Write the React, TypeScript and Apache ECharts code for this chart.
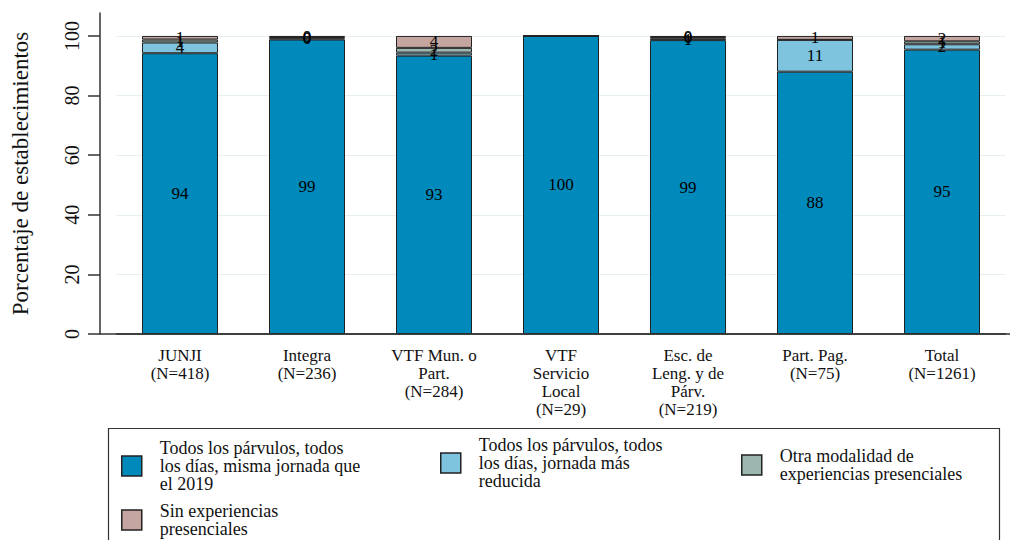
import React, { useEffect, useRef } from "react";
import * as echarts from "echarts";

const categories = [
  "JUNJI\n(N=418)",
  "Integra\n(N=236)",
  "VTF Mun. o\nPart.\n(N=284)",
  "VTF\nServicio\nLocal\n(N=29)",
  "Esc. de\nLeng. y de\nPárv.\n(N=219)",
  "Part. Pag.\n(N=75)",
  "Total\n(N=1261)",
];

const misma = [94.2, 98.8, 93.4, 100, 98.6, 88.0, 95.4];
const reducida = [3.6, 0.4, 1.0, 0, 0.6, 10.7, 1.8];
const otra = [1.0, 0.4, 1.6, 0, 0.4, 0, 1.0];
const sin = [1.2, 0.4, 4.0, 0, 0.4, 1.3, 1.8];

const yTicks = [0, 20, 40, 60, 80, 100];

const seriesNames = [
  "Todos los párvulos, todos los días, misma jornada que el 2019",
  "Todos los párvulos, todos los días, jornada más reducida",
  "Otra modalidad de experiencias presenciales",
  "Sin experiencias presenciales",
];
const legendLabels = [
  "Todos los párvulos, todos\nlos días, misma jornada que\nel 2019",
  "Todos los párvulos, todos\nlos días, jornada más\nreducida",
  "Otra modalidad de\nexperiencias presenciales",
  "Sin experiencias\npresenciales",
];
const colors = ["#0089bb", "#7fc4de", "#9bb7af", "#c4a59f"];

const FONT = "'Liberation Serif', 'DejaVu Serif', serif";

export default function App() {
  const ref = useRef<HTMLDivElement>(null);
  useEffect(() => {
    if (!ref.current) return;
    const chart = echarts.init(ref.current, undefined, { renderer: "svg" });
    const values = [misma, reducida, otra, sin];
    const series: any[] = values.map((vals, si) => ({
      name: seriesNames[si],
      type: "bar",
      stack: "total",
      barWidth: 76,
      data: vals,
      itemStyle: { color: colors[si], borderColor: "#222", borderWidth: 1 },
      label: {
        show: true,
        position: "inside",
        color: "#000",
        fontFamily: FONT,
        fontSize: 17,
        textBorderWidth: 0,
        formatter: (p: any) => (p.value === 0 ? "" : String(Math.round(p.value))),
      },
      z: 3,
      ...(si === 0
        ? {
            markLine: {
              silent: true,
              symbol: "none",
              label: { show: false },
              lineStyle: { color: "#e6eff1", width: 1, type: "solid" },
              data: yTicks.slice(1).map((v) => ({ yAxis: v })),
              z: 1,
            },
          }
        : {}),
    }));

    const legendPos = [
      { left: 121, top: 439 },
      { left: 440, top: 436 },
      { left: 741, top: 447 },
      { left: 121, top: 502 },
    ];

    chart.setOption({
      animation: false,
      textStyle: { fontFamily: FONT },
      grid: { left: 116.5, width: 889, top: 13, bottom: 206, containLabel: false },
      xAxis: {
        type: "category",
        data: categories,
        axisLine: { lineStyle: { color: "#333", width: 1.5 } },
        axisTick: { show: false },
        axisLabel: {
          color: "#111",
          fontFamily: FONT,
          fontSize: 17,
          lineHeight: 18,
          margin: 12,
          interval: 0,
        },
      },
      yAxis: {
        type: "value",
        min: 0,
        max: 107.7,
        offset: 16.5,
        name: "Porcentaje de establecimientos",
        nameLocation: "middle",
        nameRotate: 90,
        nameGap: 68,
        nameTextStyle: { color: "#111", fontFamily: FONT, fontSize: 23 },
        axisLine: { show: true, lineStyle: { color: "#333", width: 1.5 } },
        axisTick: {
          show: true,
          length: 12,
          customValues: yTicks,
          lineStyle: { color: "#333", width: 1.5 },
        },
        axisLabel: {
          customValues: yTicks,
          rotate: 90,
          color: "#111",
          fontFamily: FONT,
          fontSize: 20,
          margin: 18,
        },
        splitLine: { show: false },
      },
      legend: legendPos.map((pos, i) => ({
        data: [seriesNames[i]],
        left: pos.left,
        top: pos.top,
        padding: 0,
        icon: "rect",
        itemWidth: 20,
        itemHeight: 20,
        itemStyle: { borderColor: "#222", borderWidth: 1.5 },
        selectedMode: false,
        formatter: () => legendLabels[i],
        textStyle: {
          color: "#111",
          fontFamily: FONT,
          fontSize: 18,
          lineHeight: 18,
          padding: [0, 0, 0, 13],
        },
      })),
      graphic: [
        {
          type: "line",
          shape: { x1: 100, y1: 334, x2: 1010, y2: 334 },
          style: { stroke: "#333", lineWidth: 1.5 },
          z: 10,
        },
        {
          type: "rect",
          shape: { x: 108.5, y: 428.5, width: 891, height: 130 },
          style: { fill: "none", stroke: "#333", lineWidth: 1.2 },
          z: 0,
        },
      ],
      series,
    });
    return () => chart.dispose();
  }, []);
  return (
    <div
      ref={ref}
      style={{ position: "fixed", left: 0, top: 0, width: 1010, height: 540, background: "#fff" }}
    />
  );
}
